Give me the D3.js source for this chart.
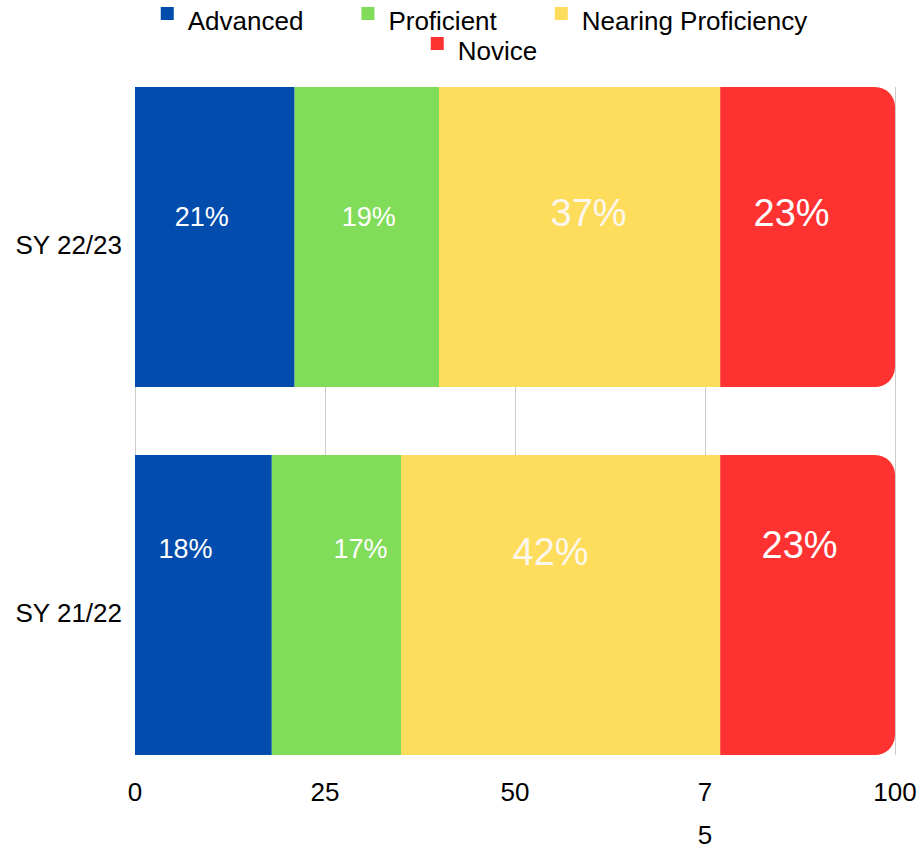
<!DOCTYPE html>
<html>
<head>
<meta charset="utf-8">
<script src="https://cdn.jsdelivr.net/npm/d3@7"></script>
<style>
  html, body { margin: 0; padding: 0; background: #ffffff; }
  svg { display: block; font-family: "Liberation Sans", Arial, sans-serif; }
</style>
</head>
<body>
<svg id="chart" width="920" height="849"></svg>
<script>
// ---- data ----
const categories = ["SY 22/23", "SY 21/22"];
const seriesNames = ["Advanced", "Proficient", "Nearing Proficiency", "Novice"];
const advanced = [21, 18];
const proficient = [19, 17];
const nearing = [37, 42];
const novice = [23, 23];
const tickValues = [0, 25, 50, 75, 100];
const tickLines = [["0"], ["25"], ["50"], ["7", "5"], ["100"]];

// ---- styling ----
const colors = ["#024cad", "#81dc5a", "#ffdd5c", "#ff3232"];
const FONT = 26;
const svg = d3.select("#chart");

const x = d3.scaleLinear().domain([0, 100]).range([135, 895]);
const y = d3.scaleBand().domain(categories).range([87, 755]).paddingInner(0.1848).paddingOuter(0);

const seriesValues = [advanced, proficient, nearing, novice];

// gridlines
svg.append("g").selectAll("line").data(tickValues).join("line")
  .attr("x1", d => x(d)).attr("x2", d => x(d))
  .attr("y1", y.range()[0]).attr("y2", y.range()[1])
  .attr("stroke", "#cccccc").attr("stroke-width", 1)
  .attr("shape-rendering", "crispEdges");

// stacked data
const stackData = categories.map((c, i) => {
  const row = { cat: c };
  seriesNames.forEach((s, j) => row[s] = seriesValues[j][i]);
  return row;
});
const stacked = d3.stack().keys(seriesNames)(stackData);

// label nudges (layout only)
const labelDx = [[-13, 2, 9, -16], [-18, 24, -10, -8]];
const labelDy = [[-11, -11, -11, -11], [-47, -47, -40, -47]];
const labelSize = [27, 27, 38, 38];

const R = 20;
stacked.forEach((layer, j) => {
  const g = svg.append("g");
  layer.forEach((d, i) => {
    const x0 = x(d[0]), x1 = x(d[1]);
    const y0 = y(categories[i]), h = y.bandwidth();
    if (j === seriesNames.length - 1) {
      const p = d3.path();
      p.moveTo(x0, y0);
      p.lineTo(x1 - R, y0);
      p.arcTo(x1, y0, x1, y0 + R, R);
      p.lineTo(x1, y0 + h - R);
      p.arcTo(x1, y0 + h, x1 - R, y0 + h, R);
      p.lineTo(x0, y0 + h);
      p.closePath();
      g.append("path").attr("d", p.toString()).attr("fill", colors[j]);
    } else {
      g.append("rect").attr("x", x0).attr("y", y0)
        .attr("width", x1 - x0).attr("height", h).attr("fill", colors[j]);
    }
  });
});

// value labels
stacked.forEach((layer, j) => {
  layer.forEach((d, i) => {
    const cx = x((d[0] + d[1]) / 2) + labelDx[i][j];
    const cy = y(categories[i]) + y.bandwidth() / 2 + labelDy[i][j];
    svg.append("text")
      .attr("x", cx).attr("y", cy)
      .attr("text-anchor", "middle")
      .attr("font-size", labelSize[j])
      .attr("fill", j === 2 ? "#fbf7ee" : "#ffffff")
      .text(seriesValues[j][i] + "%");
  });
});

// category labels
svg.append("g").selectAll("text").data(categories).join("text")
  .attr("x", 122)
  .attr("y", d => y(d) + y.bandwidth() / 2 + 17)
  .attr("text-anchor", "end")
  .attr("font-size", FONT)
  .attr("fill", "#000")
  .text(d => d);

// x tick labels
const tg = svg.append("g");
tickValues.forEach((v, i) => {
  const t = tg.append("text")
    .attr("x", x(v)).attr("y", 801)
    .attr("text-anchor", "middle")
    .attr("font-size", FONT)
    .attr("fill", "#000");
  tickLines[i].forEach((line, k) => {
    t.append("tspan").attr("x", x(v)).attr("dy", k === 0 ? 0 : 43).text(line);
  });
});

// legend
const legendRows = [[0, 1, 2], [3]];
const legendCenter = 484;
const SQ = 13, GAP_T = 14, GAP_I = 58;
const rowBaselines = [30, 60];
const lg = svg.append("g");
legendRows.forEach((row, r) => {
  const items = row.map(j => {
    const g = lg.append("g");
    g.append("rect").attr("width", SQ).attr("height", SQ)
      .attr("y", rowBaselines[r] - 23).attr("fill", colors[j]);
    const t = g.append("text").attr("x", SQ + GAP_T).attr("y", rowBaselines[r])
      .attr("font-size", FONT).attr("fill", "#000").text(seriesNames[j]);
    const w = SQ + GAP_T + t.node().getComputedTextLength();
    return { g, w };
  });
  const total = d3.sum(items, d => d.w) + GAP_I * (items.length - 1);
  let cx = legendCenter - total / 2;
  items.forEach(it => {
    it.g.attr("transform", `translate(${cx},0)`);
    cx += it.w + GAP_I;
  });
});
</script>
</body>
</html>
